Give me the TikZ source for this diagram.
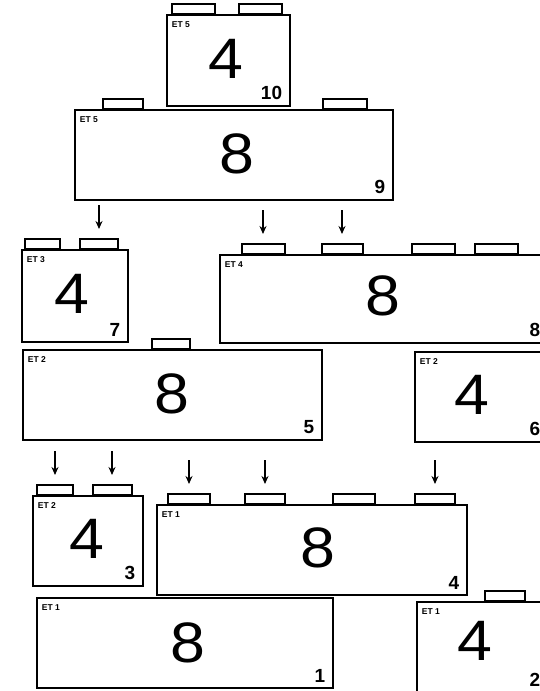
\documentclass[tikz,border=0pt]{standalone}
\usepackage{fontspec}
\setmainfont{Liberation Sans}
\usetikzlibrary{positioning,fit,arrows.meta}
\tikzset{
	brick/.style={draw=black,fill=white,line width=2.6pt,inner sep=0pt},
	stud/.style={draw=black,fill=white,line width=2pt,inner sep=0pt,minimum height=10pt,anchor=south},
	digit/.style={font=\fontsize{57}{57}\selectfont,inner sep=0pt,xscale=1.1},
	num/.style={font=\fontsize{19}{19}\selectfont\bfseries,inner sep=0pt,anchor=south east},
	et/.style={font=\fontsize{8.5}{8.5}\selectfont\bfseries,inner sep=0pt,anchor=north west},
	arr/.style={-{Stealth[length=8pt,width=7pt]},line width=1.4pt},
}

\begin{document}
\begin{tikzpicture}[x=1pt,y=-1pt]
	\clip (0,0) rectangle (540,691);
	\fill[white] (0,0) rectangle (540,691);
	% bricks: number/left/top/right/bottom/digit x/digit y/size/stage
	\foreach \n/\l/\t/\r/\b/\dx/\dy/\d/\e in {
		10/167/15/290/106/226/59/4/5,
		9/75/110/393/200/237/154/8/5,
		7/22/250/128/342/72/294/4/3,
		8/220/255/548/343/383/296/8/4,
		5/23/350/322/440/172/394/8/2,
		6/415/352/548/442/472/395/4/2,
		3/33/496/143/586/87/539/4/2,
		4/157/505/467/595/318/548/8/1,
		1/37/598/333/688/188/643/8/1,
		2/417/602/548/692/475/641/4/1}{
		\node[brick,fit={(\l,\t) (\r,\b)}] (b\n) {};
		\node[digit] (d\n) at (\dx,\dy) {\d};
		\node[num] (n\n) at ([xshift=-9pt,yshift=7pt]b\n.south east) {\n};
		\node[et] (e\n) at ([xshift=6pt,yshift=-8pt]b\n.north west) {ET \e};
	}
	% studs on top edges
	\foreach \s/\x/\w/\y in {
		10a/193/43/15, 10b/260/43/15,
		9a/123/40/110, 9b/345/44/110,
		7a/42/35/250, 7b/99/38/250,
		8a/263/43/255, 8b/342/41/255, 8c/433/43/255, 8d/496/43/255,
		5a/171/38/350,
		3a/55/36/496, 3b/112/39/496,
		4a/189/42/505, 4b/265/40/505, 4c/354/42/505, 4d/435/40/505,
		2a/505/40/602}
		\node[stud,minimum width=\w pt] (s\s) at (\x,\y) {};
	% push-down arrows
	\foreach \s in {7b,8a,8b,3a,3b,4a,4b,4d}
		\draw[arr] ([yshift=33pt]s\s.north) -- ([yshift=9pt]s\s.north);
\end{tikzpicture}
\end{document}
